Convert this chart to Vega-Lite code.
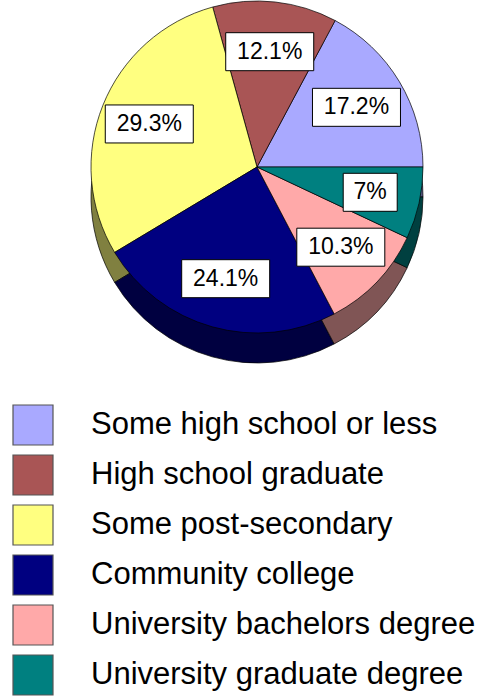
{
  "$schema": "https://vega.github.io/schema/vega-lite/v6.json",
  "autosize": {"type": "none"},
  "width": 332,
  "height": 334,
  "padding": {"left": 91, "top": 0, "right": 60, "bottom": 362},
  "background": "white",
  "config": {"view": {"stroke": null}},
  "data": {
    "values": [
      {"k": 1, "cat": "Some high school or less", "pct": 17.2, "label": "17.2%"},
      {"k": 2, "cat": "High school graduate", "pct": 12.1, "label": "12.1%"},
      {"k": 3, "cat": "Some post-secondary", "pct": 29.3, "label": "29.3%"},
      {"k": 4, "cat": "Community college", "pct": 24.1, "label": "24.1%"},
      {"k": 5, "cat": "University bachelors degree", "pct": 10.3, "label": "10.3%"},
      {"k": 6, "cat": "University graduate degree", "pct": 7.0, "label": "7%"}
    ]
  },
  "layer": [
    {
      "mark": {"type": "arc", "yOffset": 30, "stroke": "black", "strokeWidth": 0.7},
      "encoding": {
        "theta": {"field": "pct", "type": "quantitative", "stack": true, "scale": {"range": [1.5707963, -4.712389]}},
        "order": {"field": "k", "type": "quantitative"},
        "color": {
          "field": "cat", "type": "nominal",
          "scale": {
            "domain": ["Some high school or less", "High school graduate", "Some post-secondary", "Community college", "University bachelors degree", "University graduate degree"],
            "range": ["#555580", "#552B2B", "#808040", "#000040", "#805555", "#004040"]
          },
          "legend": null
        }
      }
    },
    {
      "mark": {"type": "arc", "stroke": "black", "strokeWidth": 0.7},
      "encoding": {
        "theta": {"field": "pct", "type": "quantitative", "stack": true, "scale": {"range": [1.5707963, -4.712389]}},
        "order": {"field": "k", "type": "quantitative"},
        "color": {
          "field": "cat", "type": "nominal",
          "scale": {
            "domain": ["Some high school or less", "High school graduate", "Some post-secondary", "Community college", "University bachelors degree", "University graduate degree"],
            "range": ["#A9A9FF", "#A95555", "#FFFF80", "#000080", "#FFA9A9", "#008080"]
          },
          "legend": {
            "orient": "none", "legendX": -79, "legendY": 404, "title": null,
            "symbolType": "square", "symbolSize": 1600, "symbolStrokeColor": "#555555", "symbolStrokeWidth": 1.2,
            "labelFont": "Liberation Sans", "labelFontSize": 31, "labelColor": "black",
            "labelOffset": 37, "rowPadding": 4, "labelLimit": 0, "symbolOpacity": 1
          }
        }
      }
    },
    {
      "transform": [
        {"window": [{"op": "sum", "field": "pct", "as": "cum"}], "sort": [{"field": "k"}], "frame": [null, 0]},
        {"joinaggregate": [{"op": "sum", "field": "pct", "as": "tot"}]},
        {"calculate": "2 * PI * (datum.cum - datum.pct / 2) / datum.tot", "as": "ang"},
        {"calculate": "cos(datum.ang)", "as": "ux"},
        {"calculate": "sin(datum.ang)", "as": "uy"}
      ],
      "mark": {"type": "point", "filled": true, "color": "white", "opacity": 1, "stroke": "black", "strokeWidth": 1, "size": 100},
      "encoding": {
        "x": {"field": "ux", "type": "quantitative", "scale": {"domain": [-1, 1], "range": [50, 282], "nice": false, "zero": false}, "axis": null},
        "y": {"field": "uy", "type": "quantitative", "scale": {"domain": [-1, 1], "range": [283, 51], "nice": false, "zero": false}, "axis": null},
        "shape": {"condition": {"test": "datum.pct < 10", "value": "M-5.4,-3.8H5.4V3.8H-5.4Z"}, "value": "M-8.8,-3.8H8.8V3.8H-8.8Z"}
      }
    },
    {
      "mark": {"type": "text", "radius": 116, "font": "Liberation Sans", "fontSize": 23, "color": "black"},
      "encoding": {
        "theta": {"field": "pct", "type": "quantitative", "stack": true, "scale": {"range": [1.5707963, -4.712389]}},
        "order": {"field": "k", "type": "quantitative"},
        "detail": {"field": "cat", "type": "nominal"},
        "text": {"field": "label", "type": "nominal"}
      }
    }
  ],
  "resolve": {"scale": {"color": "independent"}}
}
